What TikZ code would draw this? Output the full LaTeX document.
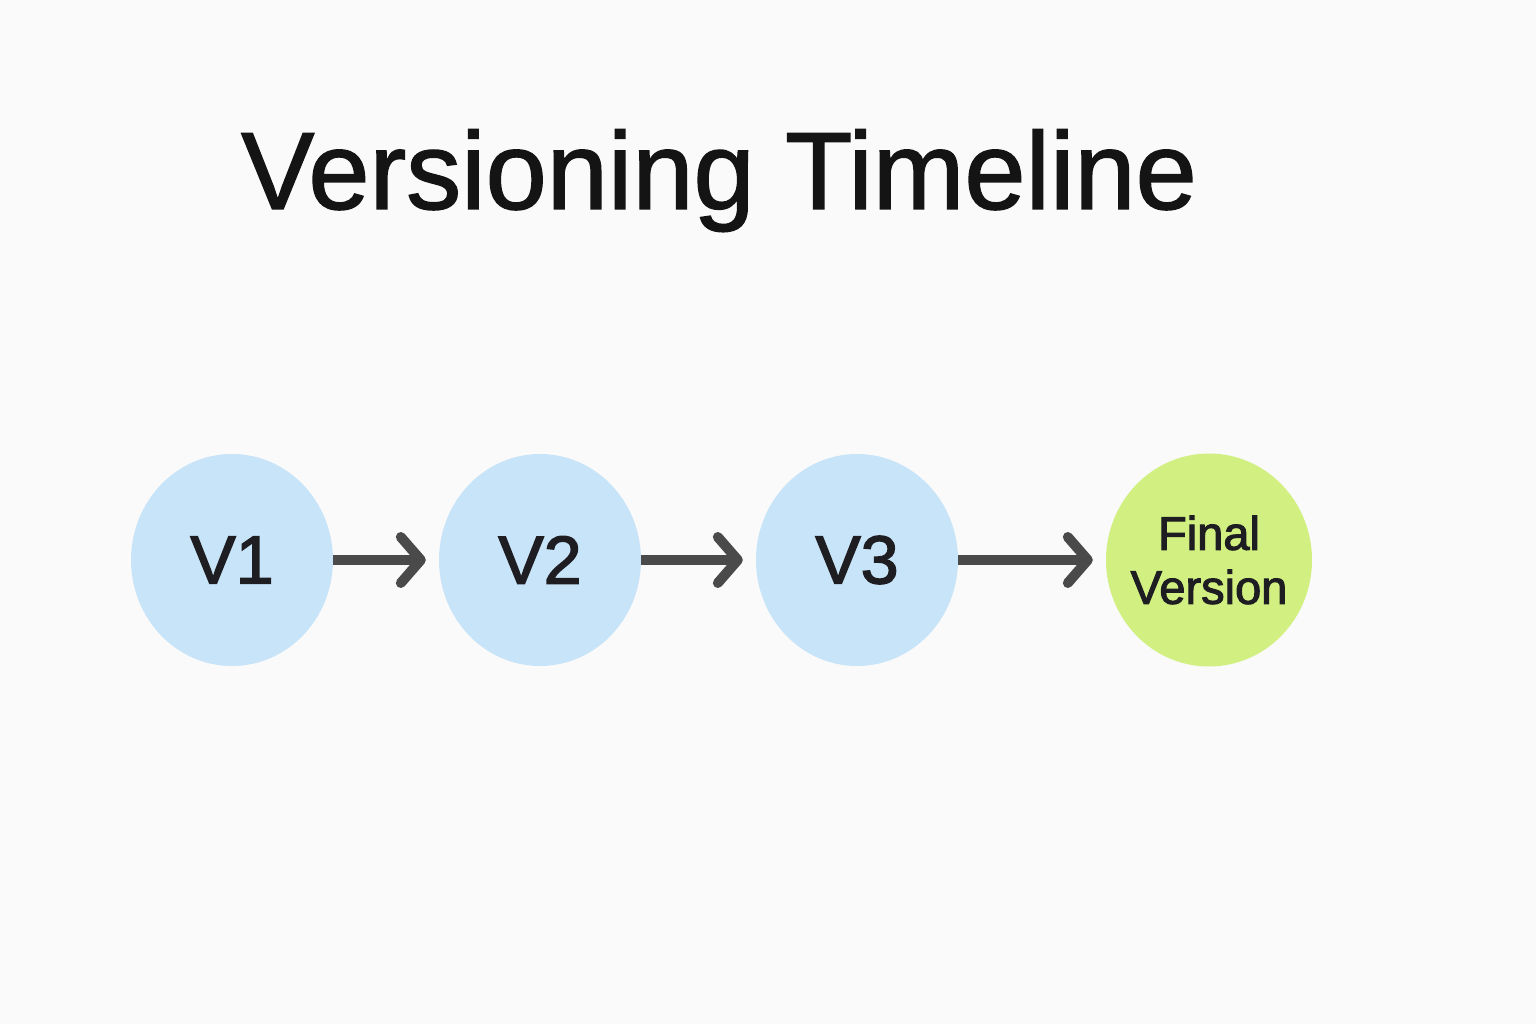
\documentclass[tikz,border=0pt]{standalone}
\usepackage{fontspec}
\setmainfont{Liberation Sans}
\newfontfamily\titlefont[FakeBold=1.3]{Liberation Sans}
\newfontfamily\nodefont[FakeBold=2.2]{Liberation Sans}
\usetikzlibrary{arrows.meta,shapes.geometric}
\definecolor{bgc}{HTML}{FAFAFA}
\definecolor{vblue}{HTML}{C8E4F8}
\definecolor{vgreen}{HTML}{D2F081}
\definecolor{arrc}{HTML}{4A4A4A}
\definecolor{txtc}{HTML}{1E1E22}
\tikzset{
  vnode/.style={ellipse, fill=vblue, minimum width=202pt, minimum height=212pt, inner sep=0pt, text=txtc, font=\nodefont\fontsize{68}{80}\selectfont},
  fnode/.style={ellipse, fill=vgreen, minimum width=206pt, minimum height=213pt, inner sep=-8pt, text=txtc, align=center, font=\nodefont\fontsize{47}{56}\selectfont},
  conn/.style={draw=arrc, line width=10pt, -{Straight Barb[length=20pt, width=46pt, line width=10pt, round]}, shorten >=13pt},
}
\begin{document}
\begin{tikzpicture}[x=1pt,y=-1pt]
\fill[bgc] (0,0) rectangle (1536,1024);
\useasboundingbox (0,0) rectangle (1536,1024);
\node[anchor=base, font=\titlefont\fontsize{110}{120}\selectfont, text=black!92] (title) at (719,209) {Versioning Timeline};
\node[vnode] (v1) at (232,560) {V1};
\node[vnode] (v2) at (540,560) {V2};
\node[vnode] (v3) at (857,560) {V3};
\node[fnode] (fin) at (1209,560) {Final\\[-2pt]Version};
\draw[conn] (v1) -- (v2);
\draw[conn] (v2) -- (v3);
\draw[conn] (v3) -- (fin);
\end{tikzpicture}
\end{document}
